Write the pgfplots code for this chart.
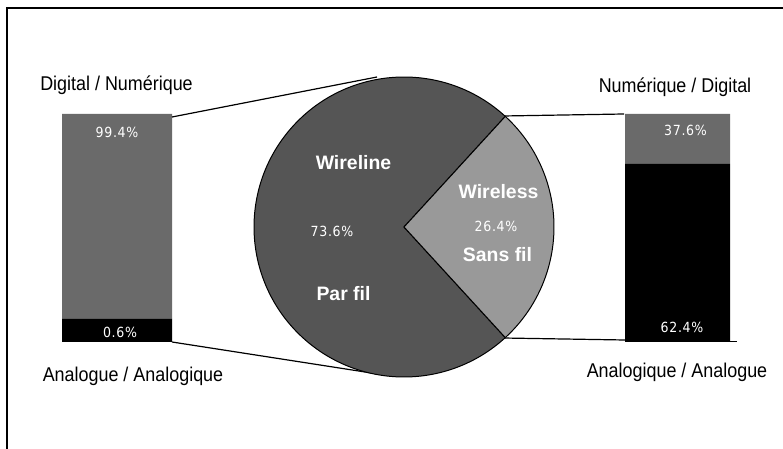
\documentclass[border=0pt]{standalone}
\usepackage{fontspec}
\setmainfont{Liberation Sans}
\newfontfamily\lblfont[FakeStretch=0.9]{Liberation Sans}
\newfontfamily\pctfont[LetterSpace=5, FakeStretch=0.9]{DejaVu Sans}
\usepackage{pgfplots}
\pgfplotsset{compat=1.18}
\definecolor{wireline}{HTML}{555555}
\definecolor{wireless}{HTML}{999999}
\definecolor{bargray}{HTML}{6A6A6A}
% data
\def\wirelineshare{73.6}
\def\wirelessshare{26.4}
\begin{document}
\begin{tikzpicture}
\begin{axis}[name=ax, x=1bp, y=1bp, xmin=0, xmax=783, ymin=0, ymax=449,
  y dir=reverse, hide axis, scale only axis, clip=false]
% frame
\addplot[black, line width=2bp] coordinates {(7,460) (7,8) (790,8)};
% left bar: digital 99.4, analogue 0.6
\addplot[draw=none, fill=bargray] coordinates {(62,114) (172,114) (172,319) (62,319) (62,114)};
\addplot[draw=none, fill=black] coordinates {(62,319) (172,319) (172,342) (62,342) (62,319)};
% right bar: digital 37.6, analogue 62.4
\addplot[draw=none, fill=bargray] coordinates {(625,114) (730,114) (730,164) (625,164) (625,114)};
\addplot[draw=none, fill=black] coordinates {(625,164) (730,164) (730,342) (625,342) (625,164)};
\addplot[black, line width=1bp] coordinates {(625,342) (737,342)};
% connectors
\addplot[black, line width=1.2bp] coordinates {(172,117) (377,77)};
\addplot[black, line width=1.2bp] coordinates {(172,342) (378,374)};
\addplot[black, line width=1.2bp] coordinates {(503,116) (624,114)};
\addplot[black, line width=1.2bp] coordinates {(503,338) (625,340)};
% pie
\pgfmathsetmacro{\half}{\wirelessshare*3.6/2}
\filldraw[fill=wireline, draw=black, line width=1bp] (axis cs:404,227) -- ++(\half:150bp) arc[start angle=\half, end angle=360-\half, radius=150bp] -- cycle;
\filldraw[fill=wireless, draw=black, line width=1bp] (axis cs:404,227) -- ++(-\half:150bp) arc[start angle=-\half, end angle=\half, radius=150bp] -- cycle;
% labels
\node[anchor=base, font=\lblfont\fontsize{20}{22}\selectfont] at (axis cs:116.5,91) {Digital / Numérique};
\node[anchor=base, font=\lblfont\fontsize{20}{22}\selectfont] at (axis cs:133,382) {Analogue / Analogique};
\node[anchor=base, font=\lblfont\fontsize{20}{22}\selectfont] at (axis cs:675,93) {Numérique / Digital};
\node[anchor=base, font=\lblfont\fontsize{20}{22}\selectfont] at (axis cs:677,378) {Analogique / Analogue};
\node[anchor=base, white, font=\pctfont\fontsize{14}{16}\selectfont] at (axis cs:117,138) {99.4\%};
\node[anchor=base, white, font=\pctfont\fontsize{14}{16}\selectfont] at (axis cs:120,338) {0.6\%};
\node[anchor=base, white, font=\pctfont\fontsize{14}{16}\selectfont] at (axis cs:685.5,136) {37.6\%};
\node[anchor=base, white, font=\pctfont\fontsize{14}{16}\selectfont] at (axis cs:682,333) {62.4\%};
\node[anchor=base, white, font=\pctfont\fontsize{14}{16}\selectfont] at (axis cs:332,237) {73.6\%};
\node[anchor=base, white, font=\pctfont\fontsize{14}{16}\selectfont] at (axis cs:496,232) {26.4\%};
\node[anchor=base, white, font=\bfseries\fontsize{19.5}{21}\selectfont] at (axis cs:353.5,170) {Wireline};
\node[anchor=base, white, font=\bfseries\fontsize{19.5}{21}\selectfont] at (axis cs:343.5,300.7) {Par fil};
\node[anchor=base, white, font=\bfseries\fontsize{19.5}{21}\selectfont] at (axis cs:498.5,199) {Wireless};
\node[anchor=base, white, font=\bfseries\fontsize{19.5}{21}\selectfont] at (axis cs:497.5,262) {Sans fil};
\end{axis}
\pgfresetboundingbox
\path (ax.south west) rectangle (ax.north east);
\end{tikzpicture}
\end{document}
